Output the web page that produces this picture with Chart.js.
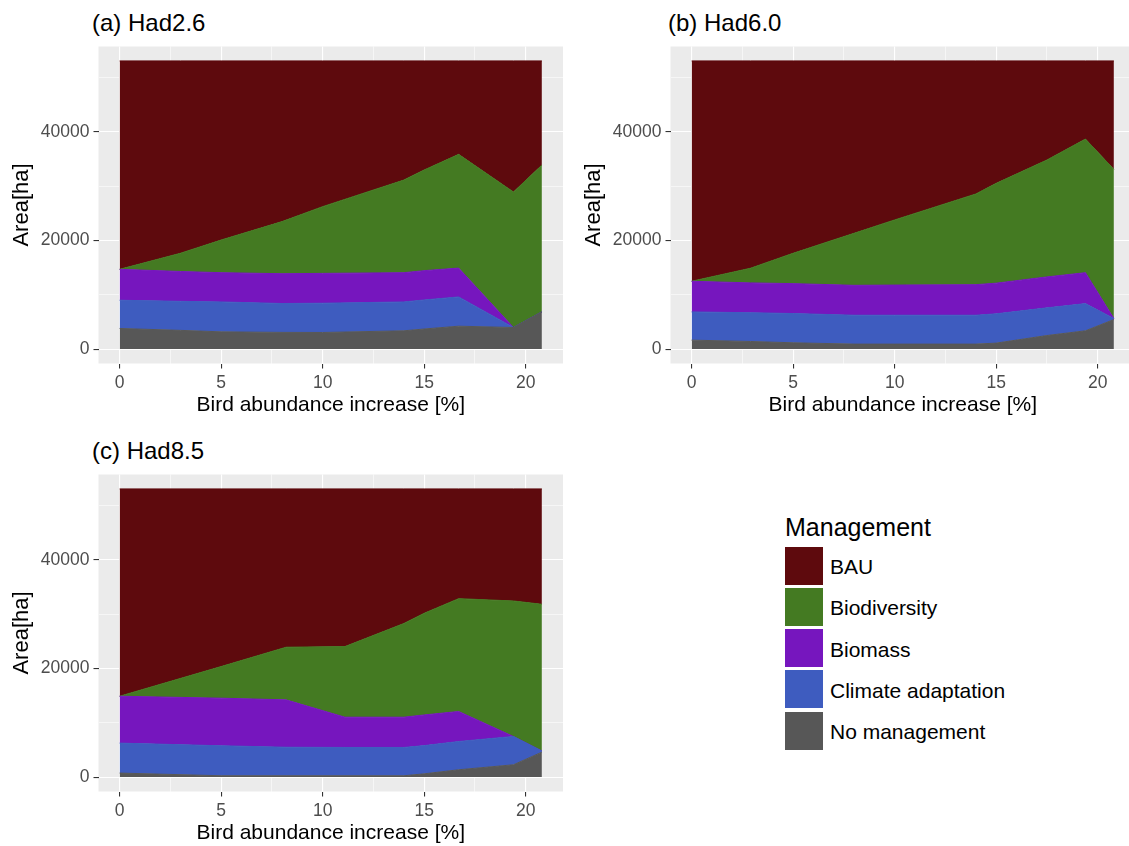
<!DOCTYPE html>
<html>
<head>
<meta charset="utf-8">
<script src="https://cdn.jsdelivr.net/npm/chart.js@4.4.1/dist/chart.umd.min.js"></script>
<style>
  html, body { margin:0; padding:0; background:#fff; width:1129px; height:846px; overflow:hidden; position:relative;
    font-family:"Liberation Sans", Arial, Helvetica, sans-serif; }
  canvas.pc { position:absolute; }
  .ptitle { position:absolute; font-size:24px; line-height:1; color:#000; white-space:nowrap; }
  .lgtitle { position:absolute; left:785px; top:515px; font-size:25px; line-height:1; color:#000; }
  .lgrow { position:absolute; left:785px; height:38px; display:flex; align-items:center; }
  .lgkey { width:38px; height:38px; }
  .lglab { margin-left:7px; font-size:21px; color:#000; padding-top:3px; white-space:nowrap; }
</style>
</head>
<body>
<div class="ptitle" style="left:92px;top:11px;">(a) Had2.6</div>
<div class="ptitle" style="left:668px;top:11px;">(b) Had6.0</div>
<div class="ptitle" style="left:92px;top:439px;">(c) Had8.5</div>
<canvas id="pa" class="pc" width="570" height="420" style="left:0px;top:0px;"></canvas>
<canvas id="pb" class="pc" width="570" height="420" style="left:572px;top:0px;"></canvas>
<canvas id="pc" class="pc" width="570" height="420" style="left:0px;top:428px;"></canvas>
<div id="legend"></div>
<script>
// ---------- DATA ----------
const categories = ['BAU', 'Biodiversity', 'Biomass', 'Climate adaptation', 'No management'];
const xTickLabels = [0, 5, 10, 15, 20];
const xMinorTicks = [2.5, 7.5, 12.5, 17.5];
const yTickLabels = [0, 20000, 40000];
const yMinorTicks = [10000, 30000, 50000];

// (a) Had2.6
const xA        = [0,     3,     5,     8,     10,    14,    15,    16.7,  19.4,  20.8];
const noMgmtA   = [3800,  3450,  3180,  3080,  3060,  3370,  3700,  4220,  3980,  6850];
const climateA  = [5200,  5350,  5510,  5320,  5390,  5320,  5350,  5390,  0,     0];
const biomassA  = [5700,  5500,  5390,  5490,  5500,  5390,  5400,  5320,  0,     0];
const biodivA   = [0,     3360,  6020,  9600,  12300, 17070, 18550, 20950, 24970, 27050];
const bauA      = [38400, 35440, 33000, 29610, 26850, 21950, 20100, 17220, 24150, 19200];

// (b) Had6.0
const xB        = [0,     2.9,   5,     8,     10,    14,    15,    17.5,  19.4,  20.8];
const noMgmtB   = [1650,  1400,  1160,  920,   920,   920,   1100,  2500,  3370,  5450];
const climateB  = [5200,  5300,  5390,  5320,  5320,  5320,  5400,  5100,  5010,  180];
const biomassB  = [5650,  5500,  5510,  5510,  5560,  5630,  5650,  5700,  5700,  0];
const biodivB   = [0,     2700,  5600,  9590,  12000, 16710, 18390, 21540, 24620, 27490];
const bauB      = [40600, 38200, 35440, 31760, 29300, 24520, 22560, 18260, 14400, 19980];

// (c) Had8.5
const xC        = [0,     5,     8.2,   11.1,  14,    15,    16.7,  19.4,  20.8];
const noMgmtC   = [740,   245,   245,   245,   245,   600,   1350,  2270,  4600];
const climateC  = [5520,  5525,  5255,  5215,  5215,  5200,  5210,  5210,  200];
const biomassC  = [8640,  8770,  8730,  5580,  5580,  5650,  5530,  0,     0];
const biodivC   = [0,     5830,  9700,  13010, 17260, 18730, 20790, 24970, 27040];
const bauC      = [38200, 32730, 29170, 29050, 24800, 22920, 20220, 20650, 21260];

// ---------- STYLE ----------
const FONT = '"Liberation Sans", Arial, Helvetica, sans-serif';
const catColors = {
  'BAU': '#5E0A0D',
  'Biodiversity': '#447A22',
  'Biomass': '#7616BE',
  'Climate adaptation': '#3E5CBF',
  'No management': '#575757'
};

const panelBg = {
  id: 'panelBg',
  beforeDraw(chart) {
    const a = chart.chartArea, c = chart.ctx;
    c.save();
    c.fillStyle = '#EBEBEB';
    c.fillRect(a.left, a.top, a.right - a.left, a.bottom - a.top);
    c.restore();
  }
};

function isMajor(list, c) {
  return !!(c && c.tick && list.some(v => Math.abs(v - c.tick.value) < 1e-6));
}

function makePanel(id, xs, seriesByCat) {
  const stackOrder = ['No management', 'Climate adaptation', 'Biomass', 'Biodiversity', 'BAU'];
  const datasets = stackOrder.map((name, k) => ({
    label: name,
    data: xs.map((x, i) => ({ x: x, y: seriesByCat[name][i] })),
    backgroundColor: catColors[name],
    borderColor: catColors[name],
    borderWidth: 1,
    pointRadius: 0,
    pointHoverRadius: 0,
    tension: 0,
    fill: k === 0 ? 'origin' : '-1'
  }));
  return new Chart(document.getElementById(id), {
    type: 'line',
    data: { datasets },
    plugins: [panelBg],
    options: {
      responsive: false,
      animation: false,
      events: [],
      layout: { padding: { left: 0, right: 7, top: 46.5, bottom: 0 } },
      plugins: { legend: { display: false }, tooltip: { enabled: false }, title: { display: false } },
      scales: {
        x: {
          type: 'linear',
          min: -1.04, max: 21.84,
          afterBuildTicks: s => { s.ticks = xTickLabels.concat(xMinorTicks).sort((a, b) => a - b).map(v => ({ value: v })); },
          afterFit: s => { s.height = 56.5; },
          border: { display: false },
          grid: {
            color: '#FFFFFF',
            lineWidth: c => isMajor(xTickLabels, c) ? 1.1 : 0.55,
            tickColor: c => isMajor(xTickLabels, c) ? '#333333' : 'rgba(0,0,0,0)',
            tickLength: 5,
            tickWidth: 1.1
          },
          ticks: {
            autoSkip: false, maxRotation: 0, minRotation: 0,
            color: '#4D4D4D', font: { family: FONT, size: 17.5 }, padding: 4,
            callback: v => xTickLabels.includes(v) ? String(v) : ''
          },
          title: { display: true, text: 'Bird abundance increase [%]', color: '#000', font: { family: FONT, size: 21 }, padding: { top: 0, bottom: 2 } }
        },
        y: {
          type: 'linear',
          stacked: true,
          min: -2655, max: 55755,
          afterBuildTicks: s => { s.ticks = yTickLabels.concat(yMinorTicks).sort((a, b) => a - b).map(v => ({ value: v })); },
          afterFit: s => { s.width = 98.5; },
          border: { display: false },
          grid: {
            color: '#FFFFFF',
            lineWidth: c => isMajor(yTickLabels, c) ? 1.1 : 0.55,
            tickColor: c => isMajor(yTickLabels, c) ? '#333333' : 'rgba(0,0,0,0)',
            tickLength: 5,
            tickWidth: 1.1
          },
          ticks: {
            autoSkip: false,
            color: '#4D4D4D', font: { family: FONT, size: 17.5 }, padding: 4,
            callback: v => yTickLabels.includes(v) ? String(v) : ''
          },
          title: { display: true, text: 'Area[ha]', color: '#000', font: { family: FONT, size: 22 }, padding: { top: 9, bottom: 0 } }
        }
      }
    }
  });
}

makePanel('pa', xA, { 'No management': noMgmtA, 'Climate adaptation': climateA, 'Biomass': biomassA, 'Biodiversity': biodivA, 'BAU': bauA });
makePanel('pb', xB, { 'No management': noMgmtB, 'Climate adaptation': climateB, 'Biomass': biomassB, 'Biodiversity': biodivB, 'BAU': bauB });
makePanel('pc', xC, { 'No management': noMgmtC, 'Climate adaptation': climateC, 'Biomass': biomassC, 'Biodiversity': biodivC, 'BAU': bauC });

// ---------- LEGEND ----------
(function () {
  const lg = document.getElementById('legend');
  const t = document.createElement('div');
  t.className = 'lgtitle';
  t.textContent = 'Management';
  lg.appendChild(t);
  categories.forEach((name, i) => {
    const row = document.createElement('div');
    row.className = 'lgrow';
    row.style.top = (546.5 + i * 41.3) + 'px';
    const key = document.createElement('div');
    key.className = 'lgkey';
    key.style.background = catColors[name];
    const lab = document.createElement('span');
    lab.className = 'lglab';
    lab.textContent = name;
    row.appendChild(key);
    row.appendChild(lab);
    lg.appendChild(row);
  });
})();
</script>
</body>
</html>
